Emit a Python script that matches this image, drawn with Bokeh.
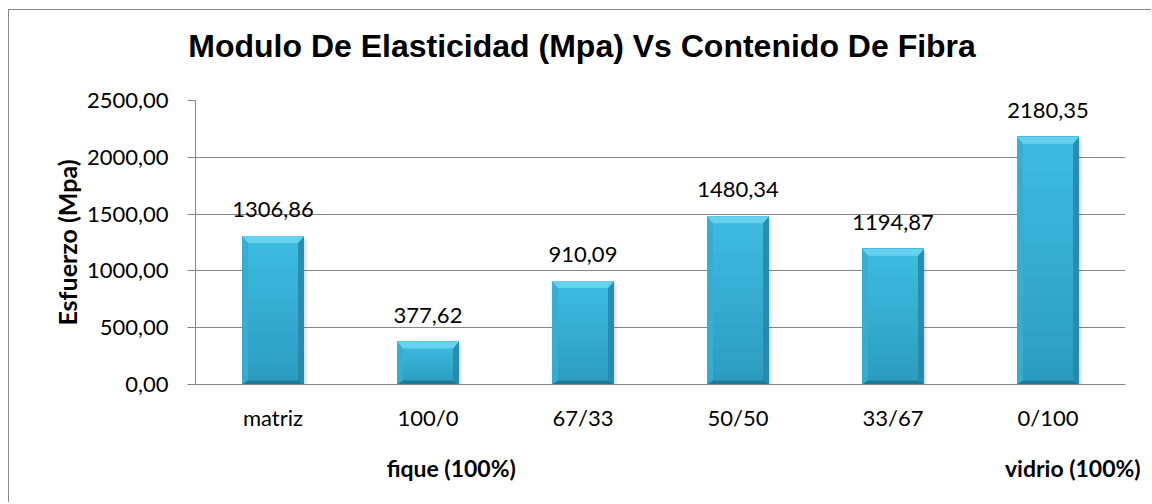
import numpy as np
from bokeh.plotting import figure
from bokeh.models import ColumnDataSource, LabelSet, FixedTicker, LinearAxis
from bokeh.core.properties import value
from bokeh.embed import file_html
from bokeh.resources import INLINE

# ---------------- data ----------------
categories = ["matriz", "100/0", "67/33", "50/50", "33/67", "0/100"]
values = [1306.86, 377.62, 910.09, 1480.34, 1194.87, 2180.35]
y_ticks = [0, 500, 1000, 1500, 2000, 2500]
y_tick_labels = ["0,00", "500,00", "1000,00", "1500,00", "2000,00", "2500,00"]
title_text = "Modulo De Elasticidad (Mpa) Vs Contenido De Fibra"
y_label = "Esfuerzo (Mpa)"
group_notes = ["fique (100%)", "vidrio (100%)"]
group_note_pos = [1.65, 5.66]
title_pos = 2.494

# ---------------- layout constants ----------------
FRAME_W, FRAME_H = 930, 284
Y_MAX = 2500
N = len(categories)
PXX = FRAME_W / N          # px per x unit
PXY = FRAME_H / Y_MAX      # px per y unit
HALF = 0.2                 # half bar width (x units)
GRID = "#868686"
FONT = "Lato"

p = figure(width=1143, height=493, x_range=(0, N), y_range=(0, Y_MAX),
           output_backend="svg", toolbar_location=None,
           min_border_left=186, min_border_right=27,
           min_border_top=90, min_border_bottom=119)
p.styles = {"margin-left": "8px", "margin-top": "9px",
            "border-left": "1px solid #868686", "border-top": "1px solid #868686"}
p.outline_line_color = None
p.background_fill_color = "white"
p.border_fill_color = "white"

# grid / axes
p.xgrid.visible = False
p.ygrid.grid_line_color = GRID
p.ygrid.grid_line_width = 1
p.yaxis.ticker = FixedTicker(ticks=y_ticks)
p.yaxis.major_label_overrides = {t: l for t, l in zip(y_ticks, y_tick_labels)}
p.yaxis.axis_line_color = GRID
p.yaxis.major_tick_line_color = GRID
p.yaxis.major_tick_out = 8
p.yaxis.major_tick_in = 0
p.yaxis.minor_tick_line_color = None
p.yaxis.major_label_standoff = 19
p.yaxis.major_label_text_font = FONT
p.yaxis.major_label_text_font_size = "22px"
p.yaxis.major_label_text_color = "black"
p.yaxis.axis_label = y_label
p.yaxis.axis_label_text_font = FONT
p.yaxis.axis_label_text_font_style = "bold"
p.yaxis.axis_label_text_font_size = "25px"
p.yaxis.axis_label_text_color = "black"
p.yaxis.axis_label_standoff = 2

x_centers = [i + 0.5 for i in range(N)]
p.xaxis.ticker = FixedTicker(ticks=x_centers)
p.xaxis.major_label_overrides = {c: lab for c, lab in zip(x_centers, categories)}
p.xaxis.axis_line_color = GRID
p.xaxis.major_tick_line_color = None
p.xaxis.major_tick_out = 0
p.xaxis.major_tick_in = 0
p.xaxis.minor_tick_line_color = None
p.xaxis.major_label_standoff = 19
p.xaxis.major_label_text_font = FONT
p.xaxis.major_label_text_font_size = "22px"
p.xaxis.major_label_text_color = "black"

# title, carried by an axis above the frame so its position is exact
title_axis = LinearAxis(ticker=FixedTicker(ticks=[title_pos]),
                        major_label_overrides={title_pos: title_text})
title_axis.axis_line_color = None
title_axis.major_tick_line_color = None
title_axis.minor_tick_line_color = None
title_axis.major_tick_out = 0
title_axis.major_tick_in = 0
title_axis.major_label_standoff = 37
title_axis.major_label_text_font = "Liberation Sans"
title_axis.major_label_text_font_style = "bold"
title_axis.major_label_text_font_size = "32px"
title_axis.major_label_text_color = "black"
title_axis.major_label_text_baseline = "alphabetic"
p.add_layout(title_axis, "above")

# second axis holding the group notes
note_axis = LinearAxis(ticker=FixedTicker(ticks=group_note_pos),
                       major_label_overrides={c: t for c, t in zip(group_note_pos, group_notes)})
note_axis.axis_line_color = None
note_axis.major_tick_line_color = None
note_axis.minor_tick_line_color = None
note_axis.major_tick_out = 0
note_axis.major_tick_in = 0
note_axis.major_label_standoff = 20
note_axis.major_label_text_font = FONT
note_axis.major_label_text_font_style = "bold"
note_axis.major_label_text_font_size = "23px"
note_axis.major_label_text_color = "black"
p.add_layout(note_axis, "below")

# ---------------- bars ----------------
xs = np.array(x_centers)
vals = np.array(values)
left = xs - HALF
right = xs + HALF

# soft shadow
for k, a in [(4, 0.05), (2.5, 0.07), (1.2, 0.09)]:
    p.quad(left=left + k / PXX, right=right + k / PXX, top=vals - k / PXY,
           bottom=np.zeros(N), fill_color="#555555", fill_alpha=a, line_color=None)

# face gradient: overlapping strips (each from its start up to the bar top)
c_bot = np.array([0x2C, 0x9C, 0xC0])
c_top = np.array([0x3E, 0xBD, 0xE1])
nstrip = 14
for s in range(nstrip):
    f0 = s / nstrip
    c = (c_bot + (c_top - c_bot) * (s + 0.5) / nstrip).astype(int)
    col = "#%02x%02x%02x" % tuple(c)
    p.quad(left=left, right=right, bottom=vals * f0, top=vals,
           fill_color=col, line_color=None)

bx = 6 / PXX     # bevel width (x units)
by_t = 7 / PXY   # top bevel (y units)
by_b = 4 / PXY   # bottom bevel

top_xs, top_ys, bot_xs, bot_ys = [], [], [], []
lft_xs, lft_ys, rgt_xs, rgt_ys = [], [], [], []
for L, R, T in zip(left, right, vals):
    top_xs.append([L, R, R - bx, L + bx]); top_ys.append([T, T, T - by_t, T - by_t])
    bot_xs.append([L, R, R - bx, L + bx]); bot_ys.append([0, 0, by_b, by_b])
    lft_xs.append([L, L, L + bx, L + bx]); lft_ys.append([0, T, T - by_t, by_b])
    rgt_xs.append([R, R, R - bx, R - bx]); rgt_ys.append([0, T, T - by_t, by_b])

p.patches(xs=lft_xs, ys=lft_ys, fill_color="#38ACD2", fill_alpha=0.9, line_color=None)
p.patches(xs=rgt_xs, ys=rgt_ys, fill_color="#2589AC", fill_alpha=0.9, line_color=None)
p.patches(xs=top_xs, ys=top_ys, fill_color="#66D2EE", line_color=None)
p.patches(xs=bot_xs, ys=bot_ys, fill_color="#1E7896", line_color=None)

# data labels
lab_src = ColumnDataSource(dict(x=xs, y=vals,
                                t=[f"{v:.2f}".replace(".", ",") for v in values]))
p.add_layout(LabelSet(x="x", y="y", text="t", source=lab_src, y_offset=19,
                      text_align="center", text_baseline="alphabetic",
                      text_font=value(FONT), text_font_size=value("22px"),
                      text_color="black"))

open("out.html", "w").write(file_html(p, INLINE))
